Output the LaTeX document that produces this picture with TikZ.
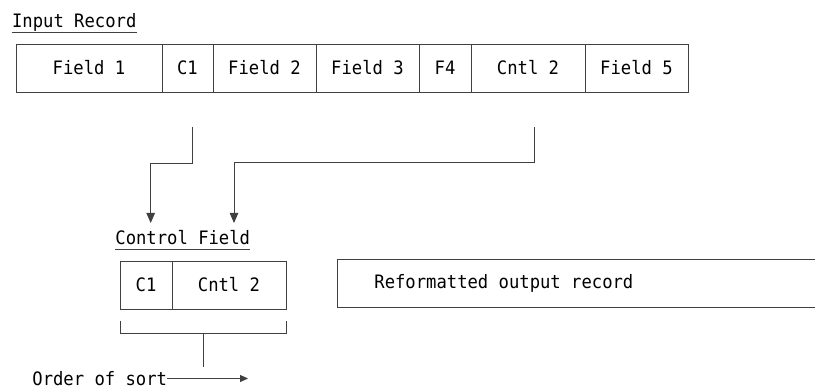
\documentclass[tikz,border=0pt]{standalone}
\usepackage{fontspec}
\setmainfont{DejaVu Sans Mono}[FakeStretch=0.93]
\usetikzlibrary{arrows.meta}
\newcommand\diagfont{\fontsize{18.5}{22}\selectfont}
\begin{document}
\begin{tikzpicture}[x=1pt,y=-1pt,
  line width=0.8pt,
  cell/.style={draw=black!75, inner sep=0pt, minimum height=48pt,
               text height=13pt, text depth=0pt, font=\diagfont},
  lbl/.style={inner sep=0pt, font=\diagfont},
  link/.style={draw=black!75, line width=0.8pt},
  arr/.style={link, -{Triangle[length=10pt,width=8.5pt]}},
  sarr/.style={link, -{Triangle[length=8pt,width=7pt]}}]
\useasboundingbox (0,0) rectangle (815,390);

% input record heading
\node[lbl, anchor=base west] (inlbl) at (11.7,28) {Input Record};
\draw[link] ([yshift=-4pt]inlbl.base west) -- ([yshift=-4pt]inlbl.base east);

% input record fields
\node[cell, minimum width=146pt] (f1) at (89,68)    {Field 1};
\node[cell, minimum width=51pt]  (c1) at (187.5,68) {C1};
\node[cell, minimum width=103pt] (f2) at (264.5,68) {Field 2};
\node[cell, minimum width=103pt] (f3) at (367.5,68) {Field 3};
\node[cell, minimum width=52pt]  (f4) at (445,68)   {F4};
\node[cell, minimum width=114pt] (cn2) at (528,68)  {Cntl 2\hspace{21pt}};
\node[cell, minimum width=103pt] (f5) at (636.5,68) {Field 5};

% control field heading
\node[lbl, anchor=base west] (cflbl) at (115,245) {Control Field};
\draw[link] ([yshift=-4pt]cflbl.base west) -- ([yshift=-4pt]cflbl.base east);

% control field cells
\node[cell, minimum width=52pt]  (cc1) at (146,285) {C1};
\node[cell, minimum width=114pt] (ccn) at (229,285) {Cntl 2\hspace{21pt}};

% extraction connectors
\coordinate (c1tap) at (192,127);
\coordinate (c1bend) at (192,163);
\coordinate (c1in) at (150.7,223);
\coordinate (cntap) at (534,127);
\coordinate (cnbend) at (534,162);
\coordinate (cnin) at (234,223);
\draw[arr] (c1tap) -- (c1bend) -| (c1in);
\draw[arr] (cntap) -- (cnbend) -| (cnin);

% bracket under the control field
\coordinate (bl) at (120,321);
\coordinate (br) at (286,321);
\coordinate (bm) at (203,333);
\coordinate (bstem) at (203,367);
\draw[link] (bl) -- (120,333) -- (286,333) -- (br);
\draw[link] (bm) -- (bstem);

% sort order
\node[lbl, anchor=base west] (ord) at (32,385) {Order of sort};
\coordinate (ordend) at (248,378.5);
\draw[sarr] ([yshift=6.5pt]ord.base east) -- (ordend);

% reformatted output record (open on the right)
\node[lbl, anchor=west] (rtxt) at (374,283.5) {Reformatted output record};
\draw[link] (815,259.5) -- (337,259.5) -- (337,307) -- (815,307);
\end{tikzpicture}
\end{document}
